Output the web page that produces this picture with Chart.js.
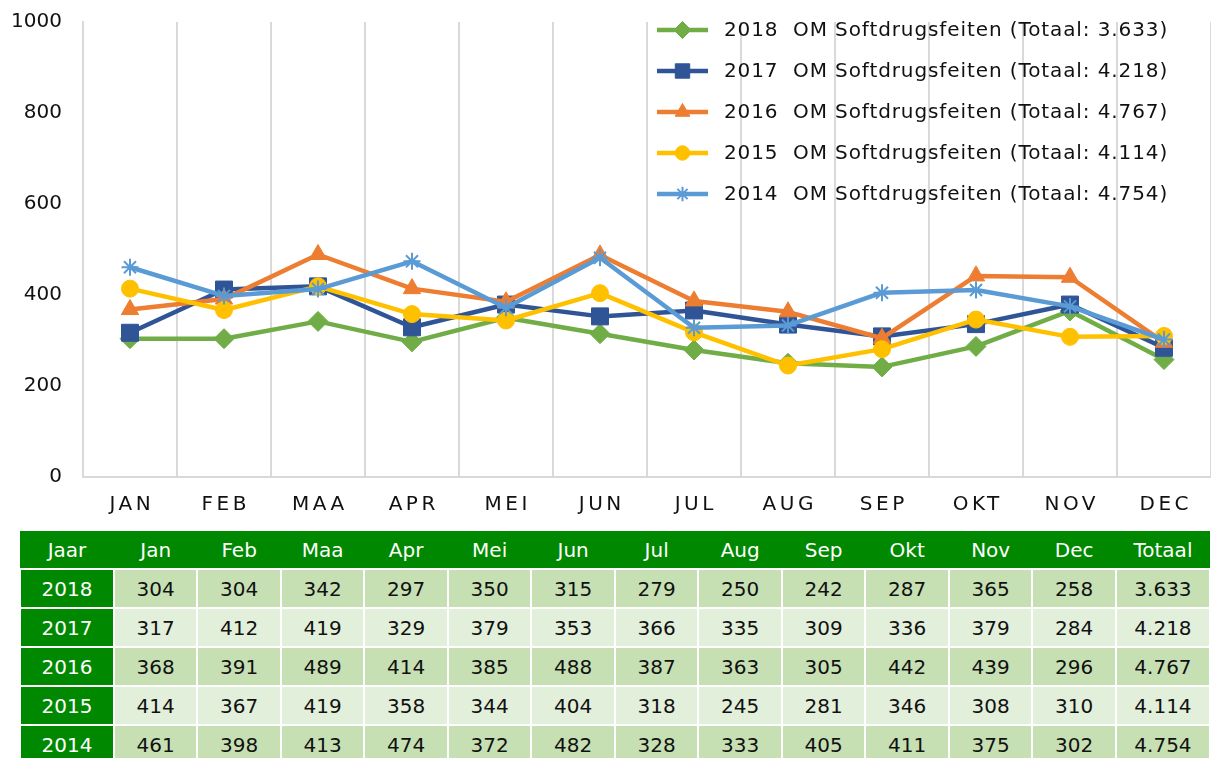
<!DOCTYPE html>
<html>
<head>
<meta charset="utf-8">
<script src="https://cdn.jsdelivr.net/npm/chart.js@4/dist/chart.umd.min.js"></script>
<style>
    body { margin: 0; background: #fff; width: 1211px; height: 758px; overflow: hidden; position: relative; font-family: "DejaVu Sans", sans-serif; }
    #chartBox { position: absolute; left: 0; top: 0; width: 1211px; height: 527px; }
    #dataTable { position: absolute; left: 19px; top: 531px; border-collapse: collapse; table-layout: fixed; font-size: 20px; }
    #dataTable th, #dataTable td { height: 37px; padding: 0; text-align: center; border: 2px solid #fff; }
    #dataTable th { background: #008800; color: #fff; font-weight: normal; border-left: 0; border-right: 0; border-top: 0; }
    #dataTable tr.dark td { background: #c6e0b4; color: #111; }
    #dataTable tr.light td { background: #e2efda; color: #111; }
    #dataTable tr td.year { background: #008800; color: #fff; }
</style>
</head>
<body>
<div id="chartBox"><canvas id="chart"></canvas></div>
<table id="dataTable"></table>
<script>
const axisMonths = ['JAN', 'FEB', 'MAA', 'APR', 'MEI', 'JUN', 'JUL', 'AUG', 'SEP', 'OKT', 'NOV', 'DEC'];
const tableMonths = ['Jan', 'Feb', 'Maa', 'Apr', 'Mei', 'Jun', 'Jul', 'Aug', 'Sep', 'Okt', 'Nov', 'Dec'];
const years = ['2018', '2017', '2016', '2015', '2014'];
const totals = ['3.633', '4.218', '4.767', '4.114', '4.754'];

const values2018 = [304, 304, 342, 297, 350, 315, 279, 250, 242, 287, 365, 258];
const values2017 = [317, 412, 419, 329, 379, 353, 366, 335, 309, 336, 379, 284];
const values2016 = [368, 391, 489, 414, 385, 488, 387, 363, 305, 442, 439, 296];
const values2015 = [414, 367, 419, 358, 344, 404, 318, 245, 281, 346, 308, 310];
const values2014 = [461, 398, 413, 474, 372, 482, 328, 333, 405, 411, 375, 302];

const yMin = 0;
const yMax = 1000;
const yStep = 200;

const seriesValues = [values2018, values2017, values2016, values2015, values2014];
const seriesColors = ['#70ad47', '#2f5597', '#ed7d31', '#ffc000', '#5b9bd5'];
const seriesMarkers = ['rectRot', 'rect', 'triangle', 'circle', 'star'];
const markerSizes = [10, 12, 10, 8.5, 8.5];

const FONT = '"DejaVu Sans", Verdana, sans-serif';

// category axis with spaced-out letters, like the original
class SpacedCategoryScale extends Chart.CategoryScale {
    drawLabels(chartArea) {
        const ctx = this.ctx;
        ctx.save();
        ctx.letterSpacing = '3.5px';
        ctx.translate(1.75, 0);
        super.drawLabels(chartArea);
        ctx.restore();
    }
}
SpacedCategoryScale.id = 'spacedCategory';
SpacedCategoryScale.defaults = Chart.CategoryScale.defaults;
Chart.register(SpacedCategoryScale);

const datasets = years.map((year, i) => ({
    label: year + '  OM Softdrugsfeiten (Totaal: ' + totals[i] + ')',
    data: seriesValues[i],
    borderColor: seriesColors[i],
    backgroundColor: seriesColors[i],
    borderWidth: 4.5,
    borderJoinStyle: 'round',
    borderCapStyle: 'round',
    pointStyle: seriesMarkers[i],
    pointRadius: markerSizes[i],
    pointBorderWidth: seriesMarkers[i] === 'star' ? 2 : 1,
    pointBackgroundColor: seriesColors[i],
    pointBorderColor: seriesColors[i],
    tension: 0,
    order: years.length - 1 - i   // 2014 on top, 2018 at the back
}));

// legend drawn inside the plot, top right, with line + marker
const insideLegend = {
    id: 'insideLegend',
    afterDraw(chart) {
        const ctx = chart.ctx;
        ctx.save();
        chart.data.datasets.forEach((ds, i) => {
            const y = 30 + i * 41;
            ctx.strokeStyle = ds.borderColor;
            ctx.lineWidth = 4.5;
            ctx.beginPath();
            ctx.moveTo(657, y);
            ctx.lineTo(708, y);
            ctx.stroke();
            ctx.fillStyle = ds.borderColor;
            ctx.lineWidth = ds.pointBorderWidth;
            Chart.helpers.drawPoint(ctx, {
                pointStyle: ds.pointStyle,
                radius: ds.pointRadius * 0.85,
                borderWidth: ds.pointBorderWidth,
                rotation: 0
            }, 682.5, y);
            ctx.fillStyle = '#111';
            ctx.font = '20px ' + FONT;
            ctx.letterSpacing = '0.9px';
            ctx.textBaseline = 'middle';
            ctx.textAlign = 'left';
            ctx.fillText(ds.label, 724, y + 1);
        });
        ctx.restore();
    }
};

new Chart(document.getElementById('chart'), {
    type: 'line',
    data: {
        labels: axisMonths,
        datasets: datasets
    },
    options: {
        responsive: true,
        maintainAspectRatio: false,
        animation: false,
        layout: { autoPadding: false, padding: { top: 22, right: 0, bottom: 0, left: 0 } },
        plugins: {
            legend: { display: false },
            tooltip: { enabled: false }
        },
        scales: {
            x: {
                type: 'spacedCategory',
                offset: true,
                grid: { display: true, offset: true, color: '#d9d9d9', lineWidth: 2, drawTicks: false },
                border: { display: true, color: '#d9d9d9', width: 2 },
                ticks: { color: '#111', font: { family: FONT, size: 20 }, padding: 16, maxRotation: 0 },
                afterFit: scale => {
                    scale.height = 50;
                    scale.paddingLeft = 0;
                    scale.paddingRight = 0;
                }
            },
            y: {
                min: yMin,
                max: yMax,
                grid: { display: false, drawTicks: false },
                border: { display: true, color: '#d9d9d9', width: 2 },
                ticks: {
                    stepSize: yStep,
                    color: '#111',
                    font: { family: FONT, size: 20 },
                    padding: 21,
                    callback: value => String(value)
                },
                afterFit: scale => {
                    scale.width = 83;
                    scale.paddingTop = 0;
                    scale.paddingBottom = 0;
                }
            }
        }
    },
    plugins: [insideLegend]
});

// data table under the chart
const table = document.getElementById('dataTable');
const colWidths = [94].concat(tableMonths.map(() => 83.6)).concat([94]);
let html = '<colgroup>' + colWidths.map(w => '<col style="width:' + w + 'px">').join('') + '</colgroup>';
html += '<tr><th>Jaar</th>' + tableMonths.map(m => '<th>' + m + '</th>').join('') + '<th>Totaal</th></tr>';
years.forEach((year, i) => {
    html += '<tr class="' + (i % 2 === 0 ? 'dark' : 'light') + '"><td class="year">' + year + '</td>';
    html += seriesValues[i].map(v => '<td>' + v + '</td>').join('');
    html += '<td>' + totals[i] + '</td></tr>';
});
table.innerHTML = html;
</script>
</body>
</html>
